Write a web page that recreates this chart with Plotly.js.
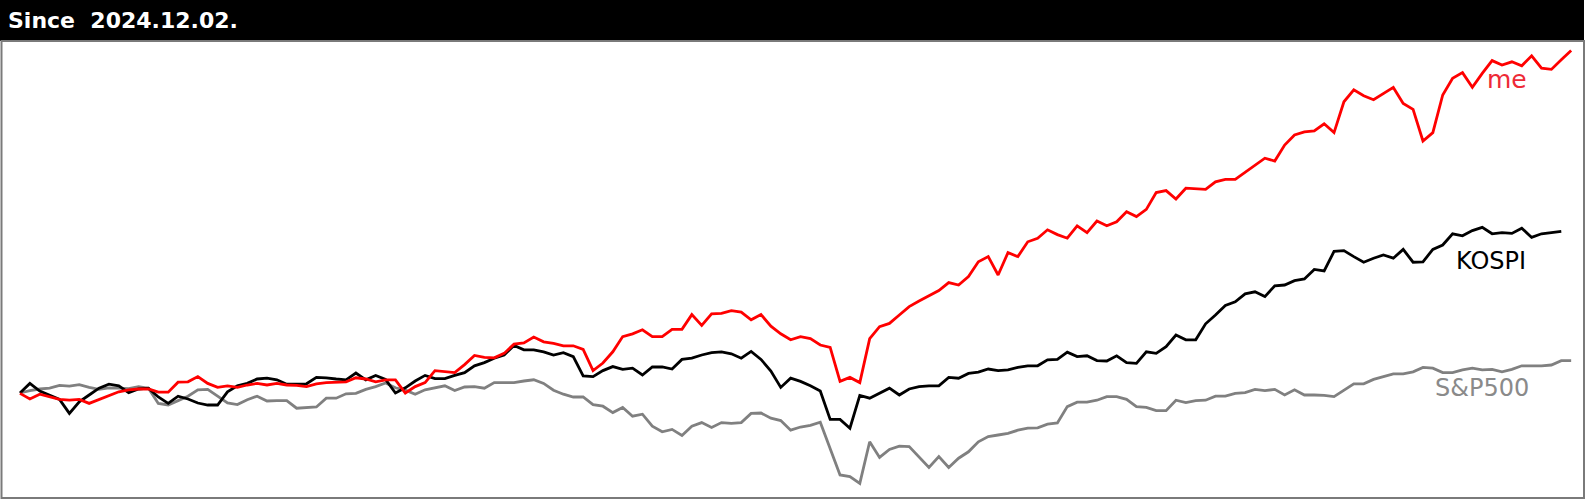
<!DOCTYPE html>
<html>
<head>
<meta charset="utf-8">
<script src="https://cdn.plot.ly/plotly-3.0.1.min.js"></script>
<style>
html,body{margin:0;padding:0;background:#fff;}
#chart{width:1588px;height:502px;}
</style>
</head>
<body>
<div id="chart"></div>
<script>
// Cumulative return (%) since 2024.12.02, one value per trading day
const seriesNames = ["me", "KOSPI", "S&P500"];
const headerText = "Since  2024.12.02.";

const meValues = [
 -0.1,-1.5,-0.3,-0.9,-1.6,-1.8,-1.6,-2.6,-1.6,-0.5,
  0.3, 0.8, 1.0, 1.0, 0.2, 0.2, 2.7, 2.8, 4.1, 2.4,
  1.4, 1.8, 1.4, 2.0, 2.4, 2.0, 2.4, 2.0, 1.9, 1.6,
  2.3, 2.6, 2.7, 2.8, 3.8, 3.5, 2.8, 3.3, 3.3, 0.0,
  1.6, 2.6, 5.6, 5.3, 5.1, 7.1, 9.4, 8.9, 8.8, 9.9,
 12.2,12.5,14.0,12.8,12.4,11.8,11.8,10.9, 5.6, 7.5,
 10.3,14.1,14.8,15.8,14.1,14.1,15.9,15.9,19.6,16.9,
 19.8,19.9,20.6,20.2,18.3,19.6,16.7,14.8,13.3,14.1,
 13.6,12.0,11.4, 2.9, 3.9, 2.6,13.6,16.6,17.4,19.5,
 21.6,23.0,24.3,25.6,27.6,27.0,29.1,32.8,34.1,29.5,
 35.1,34.1,37.8,38.7,40.8,39.6,38.7,41.8,40.1,43.0,
 41.8,42.8,45.3,44.1,45.9,50.1,50.6,48.5,51.2,51.0,
 50.9,52.8,53.4,53.4,55.1,57.0,58.7,58.0,62.0,64.5,
 65.3,65.5,67.3,65.1,72.8,75.8,74.3,73.3,74.9,76.4,
 72.4,70.9,63.0,65.1,74.5,78.7,80.1,76.4,79.9,83.1,
 82.0,82.8,81.8,84.3,81.2,80.9,83.3,85.6
];

const kospiValues = [
  0.0, 2.4, 0.5,-0.6,-1.6,-5.1,-2.2,-0.5, 1.2, 2.2,
  1.8, 0.1, 1.0, 1.2,-1.0,-2.6,-0.8,-1.5,-2.5,-3.0,
 -3.0, 0.3, 1.8, 2.4, 3.5, 3.7, 3.3, 2.2, 2.2, 2.3,
  3.9, 3.8, 3.5, 3.3, 5.0, 3.3, 4.4, 3.4, 0.0, 1.3,
  3.0, 4.4, 3.6, 3.6, 4.4, 5.1, 6.8, 7.6, 8.7, 9.5,
 11.9,10.8,10.8,10.3, 9.5,10.1, 9.1, 4.3, 4.1, 5.6,
  6.6, 5.9, 6.2, 4.5, 6.5, 6.5, 6.0, 8.4, 8.7, 9.5,
 10.1,10.3, 9.8, 8.7,10.4, 8.4, 5.5, 1.4, 3.7, 2.9,
  1.8, 0.5,-6.6,-6.6,-8.8,-0.6,-1.3,-0.1, 1.2,-0.5,
  1.0, 1.6, 1.8, 1.8, 3.9, 3.7, 4.9, 5.2, 6.0, 5.6,
  5.8, 6.4, 6.8, 6.8, 8.3, 8.4,10.2, 9.1, 9.3, 8.1,
  8.0, 9.3, 7.6, 7.4,10.3, 9.9,11.6,14.5,13.3,13.3,
 17.3,19.5,21.9,22.8,24.8,25.3,24.1,26.8,27.0,28.1,
 28.5,30.9,30.5,35.4,35.6,34.1,32.7,33.7,34.5,33.7,
 35.9,32.7,32.8,35.9,37.0,39.8,39.3,40.6,41.4,39.8,
 40.1,39.9,41.2,38.9,39.8,40.1,40.4,null
];

const spxValues = [
  0.0, 0.6, 1.0, 1.2, 1.9, 1.7, 2.1, 1.4, 0.9, 1.3,
  1.2, 1.1, 1.6, 1.2,-2.6,-3.0,-1.9,-0.8, 0.8, 0.9,
 -0.8,-2.5,-2.9,-1.7,-0.8,-2.0,-1.9,-1.9,-3.8,-3.7,
 -3.5,-1.3,-1.3,-0.2,-0.1, 0.9, 1.6, 2.5, 1.3, 0.7,
 -0.3, 0.8, 1.3, 1.8, 0.6, 1.5, 1.6, 1.2, 2.6, 2.6,
  2.6, 3.0, 3.3, 2.4, 0.7,-0.3,-1.0,-1.0,-2.9,-3.3,
 -4.9,-3.6,-5.8,-5.3,-8.3,-9.7,-9.1,-10.6,-8.3,-7.4,
 -8.6,-7.4,-7.6,-7.4,-5.1,-5.0,-6.3,-6.9,-9.3,-8.5,
 -8.1,-7.3,-13.9,-20.5,-20.9,-22.6,-12.2,-16.1,-14.1,-13.3,
 -13.4,-15.9,-18.6,-15.9,-18.6,-16.3,-14.7,-12.2,-10.9,-10.5,
 -10.1,-9.3,-8.8,-8.7,-7.8,-7.5,-3.4,-2.3,-2.3,-1.8,
 -0.9,-0.9,-1.6,-3.4,-3.6,-4.4,-4.4,-1.8,-2.4,-1.9,
 -1.8,-0.8,-0.8,-0.1, 0.1, 0.9, 0.6, 0.9,-0.5, 0.8,
 -0.5,-0.5,-0.6,-0.9, 0.8, 2.3, 2.3, 3.4, 4.1, 4.8,
  4.8, 5.3, 6.4, 6.2, 5.1, 5.1, 5.8, 6.2, 5.8, 5.9,
  5.3, 5.9, 6.8, 6.8, 6.8, 7.0, 8.1, 8.1
];

const seriesColors = ["#ff0000", "#000000", "#808080"];
const dayIndex = meValues.map((_, i) => i);

const W = 1588, H = 502;
const px = v => v / W;
const py = v => 1 - v / H;

const traces = [meValues, kospiValues, spxValues].map((vals, k) => ({
  type: "scatter",
  mode: "lines",
  x: dayIndex,
  y: vals,
  name: seriesNames[k],
  line: {color: seriesColors[k], width: 2.8},
  connectgaps: false,
  hoverinfo: "skip"
}));
// draw order: gray at bottom, then black, then red on top
const ordered = [traces[2], traces[1], traces[0]];

const labelFont = "'DejaVu Sans', Verdana, sans-serif";

const layout = {
  width: W,
  height: H,
  margin: {l: 0, r: 0, t: 0, b: 0, pad: 0},
  paper_bgcolor: "#ffffff",
  plot_bgcolor: "#ffffff",
  showlegend: false,
  xaxis: {visible: false, range: [-20 / 9.88, (W - 20) / 9.88], fixedrange: true},
  yaxis: {visible: false, range: [(393 - H) / 4, 393 / 4], fixedrange: true},
  shapes: [
    {type: "rect", xref: "paper", yref: "paper", x0: 0, x1: px(1584), y0: py(41), y1: 1,
     fillcolor: "#000000", line: {width: 0}, layer: "above"},
    {type: "rect", xref: "paper", yref: "paper", x0: px(1.5), x1: px(1584), y0: py(498), y1: py(41),
     fillcolor: "rgba(0,0,0,0)", line: {color: "#7a7a7a", width: 2}, layer: "above"}
  ],
  annotations: [
    {xref: "paper", yref: "paper", x: px(6), y: py(21), xanchor: "left", yanchor: "middle",
     text: headerText, showarrow: false,
     font: {family: labelFont, size: 22, color: "#ffffff", weight: "bold"}},
    {xref: "paper", yref: "paper", x: px(1507), y: py(80), xanchor: "center", yanchor: "middle",
     text: seriesNames[0], showarrow: false,
     font: {family: labelFont, size: 25, color: "#ee2a36"}},
    {xref: "paper", yref: "paper", x: px(1491), y: py(261), xanchor: "center", yanchor: "middle",
     text: seriesNames[1], showarrow: false,
     font: {family: labelFont, size: 24, color: "#000000"}},
    {xref: "paper", yref: "paper", x: px(1482), y: py(388), xanchor: "center", yanchor: "middle",
     text: seriesNames[2], showarrow: false,
     font: {family: labelFont, size: 24, color: "#8a8a8a"}}
  ]
};

Plotly.newPlot("chart", ordered, layout, {displayModeBar: false, staticPlot: true});
</script>
</body>
</html>
